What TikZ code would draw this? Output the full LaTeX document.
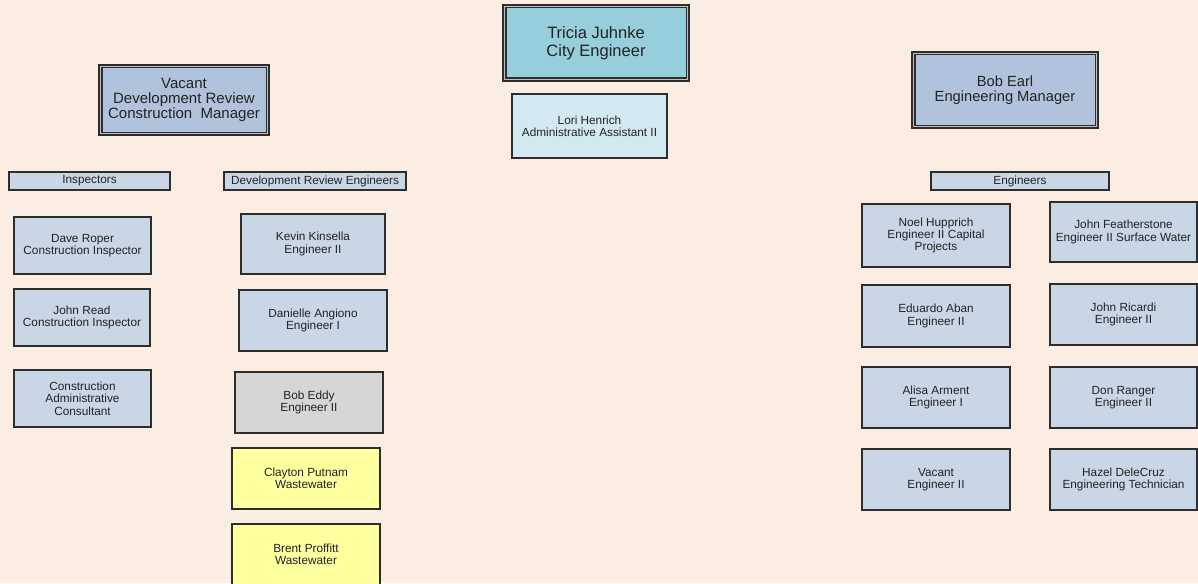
\documentclass[tikz,border=0pt]{standalone}
\usepackage{fontspec}
\setmainfont{Liberation Sans}
\usepackage{tikz}
\usetikzlibrary{calc,backgrounds}
\definecolor{pagebg}{RGB}{252,237,226}
\definecolor{boxblue}{RGB}{200,214,230}
\definecolor{headblue}{RGB}{176,194,220}
\definecolor{cityteal}{RGB}{150,206,219}
\definecolor{assistblue}{RGB}{210,233,241}
\definecolor{eddygray}{RGB}{214,214,214}
\definecolor{wateryellow}{RGB}{255,255,160}
\definecolor{edge}{RGB}{45,45,45}
\definecolor{ink}{RGB}{35,35,35}

\tikzset{
  box/.style={draw=edge, line width=1.1pt, fill=boxblue, text=ink, align=center,
    inner sep=0pt, outer sep=0pt, font=\fontsize{11.8}{12.3}\selectfont},
  head/.style={box, line width=1.5pt},
  group/.style={box, minimum height=18pt}
}

\begin{document}
\begin{tikzpicture}[x=1pt,y=-1pt]
      \clip (0,0) rectangle (1198,583);
      \fill[pagebg] (0,0) rectangle (1198,583);
      % top of the chart
      \node[head, fill=cityteal, minimum width=186pt, minimum height=76pt,
        font=\fontsize{16.5}{17.5}\selectfont] (tricia) at (596,43) {Tricia Juhnke\\City Engineer};
      \node[box, fill=assistblue, minimum width=155pt, minimum height=64pt] (lori) at (589.5,126) {Lori Henrich\\Administrative Assistant II};
      % development review side
      \node[head, fill=headblue, minimum width=170pt, minimum height=70pt,
        font=\fontsize{15}{14.8}\selectfont] (vacant) at (184,100) {Vacant\\Development Review\\Construction\ \ Manager};
      \node[group, minimum width=161pt] (insp) at (89.5,181) {Inspectors};
      \node[group, minimum width=182pt] (drev) at (315,181) {Development Review Engineers};
      \node[box, minimum width=137pt, minimum height=57pt] (dave) at (82.5,245.5) {Dave Roper\\Construction Inspector};
      \node[box, minimum width=136pt, minimum height=57pt] (jread) at (82,317.5) {John Read\\Construction Inspector};
      \node[box, minimum width=137pt, minimum height=57pt] (cac) at (82.5,398.5) {Construction\\Administrative\\Consultant};
      \node[box, minimum width=144pt, minimum height=60pt] (kevin) at (313,244) {Kevin Kinsella\\Engineer II};
      \node[box, minimum width=148pt, minimum height=61pt] (danielle) at (313,320.5) {Danielle Angiono\\Engineer I};
      \node[box, fill=eddygray, minimum width=148pt, minimum height=61pt] (eddy) at (309,402.5) {Bob Eddy\\Engineer II};
      \node[box, fill=wateryellow, minimum width=148pt, minimum height=61pt] (clayton) at (306,478.5) {Clayton Putnam\\Wastewater};
      \node[box, fill=wateryellow, minimum width=148pt, minimum height=61pt] (brent) at (306,554.5) {Brent Proffitt\\Wastewater};
      % engineering side
      \node[head, fill=headblue, minimum width=186pt, minimum height=76pt,
        font=\fontsize{14.7}{14.5}\selectfont] (earl) at (1005,90) {Bob Earl\\Engineering Manager};
      \node[group, minimum width=178pt] (engs) at (1020,181) {Engineers};
      \node[box, minimum width=148pt, minimum height=63pt] (noel) at (936,235.5) {Noel Hupprich\\Engineer II Capital\\Projects};
      \node[box, minimum width=148pt, minimum height=62pt] (eduardo) at (936,316) {Eduardo Aban\\Engineer II};
      \node[box, minimum width=148pt, minimum height=61pt] (alisa) at (936,397.5) {Alisa Arment\\Engineer I};
      \node[box, minimum width=148pt, minimum height=61pt] (vaceng) at (936,479.5) {Vacant\\Engineer II};
      \node[box, minimum width=147pt, minimum height=60pt] (feather) at (1123.5,232) {John Featherstone\\Engineer II Surface Water};
      \node[box, minimum width=147pt, minimum height=61pt] (ricardi) at (1123.5,314.5) {John Ricardi\\Engineer II};
      \node[box, minimum width=147pt, minimum height=61pt] (ranger) at (1123.5,397.5) {Don Ranger\\Engineer II};
      \node[box, minimum width=147pt, minimum height=61pt] (hazel) at (1123.5,479.5) {Hazel DeleCruz\\Engineering Technician};
      % double rule round the three heads
      \foreach \n in {tricia,vacant,earl}{
        \draw[gray!50, line width=1.1pt] ([shift={(1.5,1.5)}]\n.north west) rectangle ([shift={(-1.5,-1.5)}]\n.south east);
        \draw[edge, line width=1.4pt] ([shift={(2.8,2.8)}]\n.north west) rectangle ([shift={(-2.8,-2.8)}]\n.south east);
      }
    \end{tikzpicture}
\end{document}
